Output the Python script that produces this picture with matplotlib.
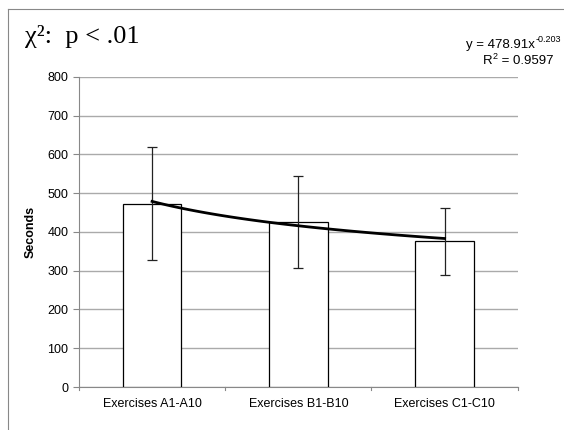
import numpy as np
import matplotlib.pyplot as plt
from matplotlib.lines import Line2D

plt.rcParams['font.family'] = ['Liberation Sans', 'DejaVu Sans']

categories = ['Exercises A1-A10', 'Exercises B1-B10', 'Exercises C1-C10']
seconds = [472, 425, 377]
err_upper = [619, 545, 462]
err_lower = [328, 307, 290]

# power trendline reported in the chart
fit_a = 478.91
fit_b = -0.203
fit_r2 = 0.9597

W, H = 564, 430
fig = plt.figure(figsize=(W / 100, H / 100), dpi=100)
ax = fig.add_axes([0.140, 0.100, 0.778, 0.721])

x = np.arange(len(categories))
yerr = [np.array(seconds) - np.array(err_lower), np.array(err_upper) - np.array(seconds)]
ax.bar(x, seconds, width=0.4, color='white', edgecolor='black', linewidth=0.9, zorder=3)
ax.errorbar(x, seconds, yerr=yerr, fmt='none', ecolor='#222222', elinewidth=0.9,
            capsize=3.8, capthick=0.9, zorder=4)

xs = np.linspace(1, 3, 100)
ax.plot(xs - 1, fit_a * xs ** fit_b, color='black', linewidth=2.0, zorder=5)

ax.set_xlim(-0.5, 2.5)
ax.set_ylim(0, 800)
ax.set_yticks(range(0, 801, 100))
ax.set_xticks(x)
ax.set_xticklabels(categories, fontsize=9)
ax.tick_params(axis='y', labelsize=9, direction='out', length=4, color='#888888', width=0.8)
ax.tick_params(axis='x', length=0, pad=8)
# category separator ticks on the x axis
for b in [-0.5, 0.5, 1.5, 2.5]:
    ax.plot([b, b], [0, -8], color='#888888', linewidth=0.8, clip_on=False)

ax.grid(axis='y', color='#aaaaaa', linewidth=1.0, zorder=0)
for s in ['top', 'right']:
    ax.spines[s].set_visible(False)
for s in ['left', 'bottom']:
    ax.spines[s].set_color('#888888')
    ax.spines[s].set_linewidth(0.8)

ax.set_ylabel('Seconds', fontsize=9, fontweight='bold', labelpad=8)

fig.text(25 / W, 1 - 36 / H, 'χ²:  p < .01', fontsize=19, va='center',
         family=['Liberation Serif', 'DejaVu Serif'])

# trendline equation, exponents as separate small texts
exp1 = fig.text(561 / W, 1 - 39 / H, f'{fit_b:.3f}', fontsize=6.5, ha='right', va='center')
ax.annotate(f'y = {fit_a:.2f}x', xy=(0, 0.5), xycoords=exp1, xytext=(-0.5, -4),
            textcoords='offset points', fontsize=9.5, ha='right', va='center',
            annotation_clip=False)
val2 = fig.text(553 / W, 1 - 61 / H, f' = {fit_r2:.4f}', fontsize=9.5, ha='right', va='center')
sup2 = ax.annotate('2', xy=(0, 0.5), xycoords=val2, xytext=(0, 3),
                   textcoords='offset points', fontsize=6.5, ha='right', va='center',
                   annotation_clip=False)
ax.annotate('R', xy=(0, 0.5), xycoords=sup2, xytext=(0, -3),
            textcoords='offset points', fontsize=9.5, ha='right', va='center',
            annotation_clip=False)

# chart area border
fig.add_artist(Line2D([8 / W, 1.0], [1 - 9 / H, 1 - 9 / H], color='#888888', linewidth=0.8))
fig.add_artist(Line2D([8 / W, 8 / W], [0.0, 1 - 9 / H], color='#888888', linewidth=0.8))

fig.savefig('out.png', dpi=100)
